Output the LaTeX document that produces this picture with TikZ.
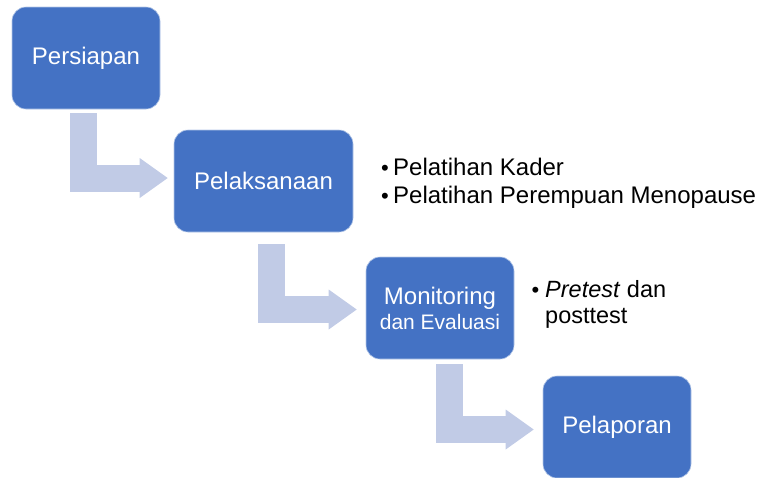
\documentclass[tikz,border=0pt]{standalone}
\usepackage{fontspec}
\setmainfont{Liberation Sans}
\usetikzlibrary{arrows.meta}
\definecolor{boxblue}{RGB}{68,114,196}
\definecolor{flowblue}{RGB}{193,203,230}
\tikzset{
  box/.style={fill=boxblue, draw=white!60!boxblue, line width=0.6pt, rounded corners=14pt,
    minimum width=148pt, minimum height=102pt, text=white, align=center, inner sep=0pt,
    font=\fontsize{24}{28}\selectfont},
  flow/.style={draw=flowblue, line width=27pt, line join=miter,
    -{Triangle[length=28pt,width=40pt,line width=0pt,fill=flowblue]}},
  bul/.style={anchor=base west, inner sep=0pt, font=\fontsize{24}{28}\selectfont},
  dot/.style={anchor=base east, inner sep=0pt, font=\fontsize{22}{26}\selectfont}
}
\begin{document}
\begin{tikzpicture}[x=1pt,y=-1pt]
\useasboundingbox (0,0) rectangle (758,477);
\node[box] (b1) at (86,58) {Persiapan};
\node[box, minimum width=179pt] (b2) at (263.5,181) {Pelaksanaan};
\node[box] (b3) at (440,308) {Monitoring\\[-3pt]{\fontsize{21}{22}\selectfont dan Evaluasi}};
\node[box] (b4) at (617,427) {Pelaporan};
\draw[flow] ([xshift=-2.5pt,yshift=-4pt]b1.south) |- ([xshift=-6pt,yshift=3pt]b2.west);
\draw[flow] ([xshift=7.5pt,yshift=-12pt]b2.south) |- ([xshift=-9pt,yshift=-1.5pt]b3.west);
\draw[flow] ([xshift=9.5pt,yshift=-5pt]b3.south) |- ([xshift=-9pt,yshift=-2.5pt]b4.west);
\node[dot] (d1) at (389,175) {•};
\node[bul] (t1) at (393,175) {Pelatihan Kader};
\node[dot] (d2) at (389,203) {•};
\node[bul] (t2) at (393,203) {Pelatihan Perempuan Menopause};
\node[dot] (d3) at (539.5,297) {•};
\node[bul, font=\fontsize{23.5}{26}\selectfont] (t3) at (545,297) {\textit{Pretest} dan};
\node[bul, font=\fontsize{23.5}{26}\selectfont] (t4) at (545,323) {posttest};
\end{tikzpicture}
\end{document}
